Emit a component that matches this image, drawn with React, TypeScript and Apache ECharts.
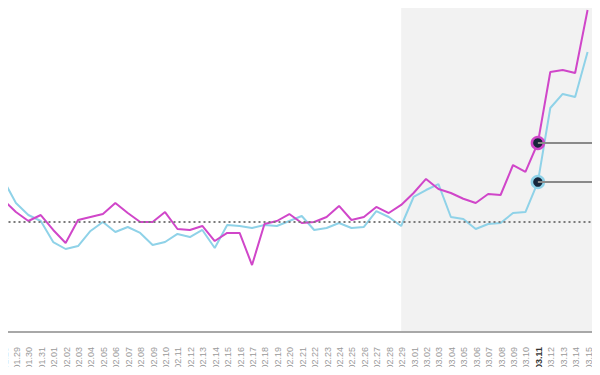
import React, { useEffect, useRef } from "react";
import * as echarts from "echarts";

const categories = [
  "01.28", "01.29", "01.30", "01.31",
  "02.01", "02.02", "02.03", "02.04", "02.05", "02.06", "02.07", "02.08", "02.09", "02.10",
  "02.11", "02.12", "02.13", "02.14", "02.15", "02.16", "02.17", "02.18", "02.19", "02.20",
  "02.21", "02.22", "02.23", "02.24", "02.25", "02.26", "02.27", "02.28", "02.29",
  "03.01", "03.02", "03.03", "03.04", "03.05", "03.06", "03.07", "03.08", "03.09", "03.10",
  "03.11", "03.12", "03.13", "03.14", "03.15",
];

const cyanValues = [
  137.3, 116.6, 105.7, 100.3, 81.3, 75.0, 77.7, 91.3, 99.4, 90.4,
  94.9, 89.5, 78.6, 81.3, 88.6, 85.8, 92.2, 75.9, 96.7, 95.8,
  94.0, 96.7, 95.8, 100.3, 104.8, 92.2, 94.0, 98.5, 94.0, 94.9,
  109.3, 103.9, 95.8, 122.0, 128.3, 133.7, 103.9, 102.1, 93.1, 97.6,
  98.5, 107.5, 108.4, 135.5, 202.4, 215.1, 212.3, 253.0,
];

const magentaValues = [
  119.3, 108.4, 100.3, 105.7, 92.2, 80.4, 101.2, 103.9, 106.6, 116.6,
  107.5, 99.4, 99.4, 108.4, 93.1, 92.2, 95.8, 82.2, 89.5, 89.5,
  60.5, 97.6, 100.3, 106.6, 98.5, 99.4, 103.9, 113.9, 101.2, 103.9,
  113.0, 107.5, 114.8, 125.6, 138.3, 129.2, 125.6, 120.4, 116.6, 124.7,
  123.8, 150.9, 144.6, 170.8, 234.9, 236.7, 234.0, 291.0,
];

const baseline = 100;
const highlightDate = "03.11";
const shadeStart = "02.29";

const MAGENTA = "#d046c9";
const CYAN = "#8fd2e8";
const DOT = "#17263b";
const LEADER = "#8a8a8a";

export default function App() {
  const ref = useRef<HTMLDivElement>(null);

  useEffect(() => {
    if (!ref.current) return;
    const chart = echarts.init(ref.current, undefined, { renderer: "svg" });
    const hi = categories.indexOf(highlightDate);
    const shadeIdx = categories.indexOf(shadeStart);
    const plotEnd = categories.length - 1 + 0.6;
    const xMax = categories.length;

    const build = (vals: number[], color: string) =>
      vals.map((v, i) =>
        i === hi
          ? {
              value: [i, v],
              symbol: "circle",
              symbolSize: 12,
              itemStyle: { color: DOT, borderColor: color, borderWidth: 2.5 },
            }
          : { value: [i, v] }
      );

    const leader = { color: LEADER, width: 2, type: "solid" };

    chart.setOption({
      animation: false,
      backgroundColor: "#ffffff",
      grid: { left: -3.1, right: 0, top: 0, bottom: 43, containLabel: false },
      xAxis: {
        type: "value",
        min: 0,
        max: xMax,
        interval: 1,
        splitLine: { show: false },
        axisTick: { show: false },
        axisLine: { show: false },
        axisLabel: {
          rotate: 90,
          margin: 15,
          fontSize: 9,
          color: "#9a9a9a",
          padding: [2, 0, 0, 0],
          showMaxLabel: false,
          formatter: (v: number) => {
            const c = categories[Math.round(v)];
            if (c === undefined || Math.abs(v - Math.round(v)) > 1e-6) return "";
            return c === highlightDate ? `{b|${c}}` : c;
          },
          rich: { b: { fontSize: 9, fontWeight: "bold", color: "#333333" } },
        },
      },
      yAxis: { type: "value", min: 0, max: 300, show: false, splitLine: { show: false } },
      series: [
        {
          type: "line",
          data: build(cyanValues, CYAN),
          symbol: "none",
          showSymbol: true,
          showAllSymbol: true,
          z: 2,
          lineStyle: { color: CYAN, width: 2 },
          itemStyle: { color: CYAN },
          markArea: {
            silent: true,
            itemStyle: { color: "#f2f2f2" },
            data: [[{ xAxis: shadeIdx }, { xAxis: plotEnd }]],
          },
          markLine: {
            silent: true,
            symbol: "none",
            label: { show: false },
            data: [
              [
                { coord: [0, 0], lineStyle: { color: "#a8a8a8", width: 2, type: "solid" } },
                { coord: [plotEnd, 0] },
              ],
              [
                { coord: [0, baseline], lineStyle: { color: "#7a7a7a", width: 2, type: [2, 3] } },
                { coord: [plotEnd, baseline] },
              ],
              [
                { coord: [hi, cyanValues[hi]], lineStyle: leader },
                { coord: [xMax, cyanValues[hi]] },
              ],
              [
                { coord: [hi, magentaValues[hi]], lineStyle: leader },
                { coord: [plotEnd, magentaValues[hi]] },
              ],
              [
                { coord: [plotEnd, magentaValues[hi]], lineStyle: leader },
                { coord: [xMax, magentaValues[hi] - 9] },
              ],
            ],
          },
        },
        {
          type: "line",
          data: build(magentaValues, MAGENTA),
          symbol: "none",
          showSymbol: true,
          showAllSymbol: true,
          z: 3,
          lineStyle: { color: MAGENTA, width: 2 },
          itemStyle: { color: MAGENTA },
        },
      ],
    });

    return () => chart.dispose();
  }, []);

  return <div ref={ref} style={{ width: 600, height: 375, margin: -8 }} />;
}
